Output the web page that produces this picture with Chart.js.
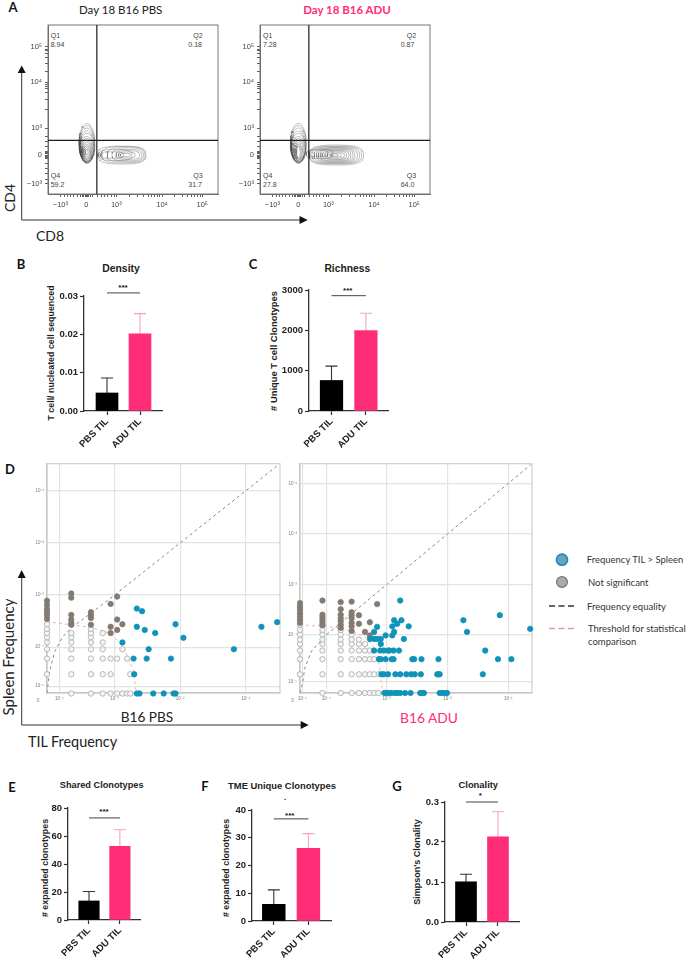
<!DOCTYPE html>
<html>
<head>
<meta charset="utf-8">
<title>TIL clonotype figure</title>
<script src="https://cdn.jsdelivr.net/npm/chart.js@4"></script>
<style>
  html, body { margin: 0; background: #fff; }
  #page { position: relative; width: 689px; height: 960px; overflow: hidden; }
  #page canvas { position: absolute; }
  #page svg { position: absolute; left: 0; top: 0; }
  .t { position: absolute; white-space: nowrap; line-height: 1; }
</style>
</head>
<body>
<div id="page">
  <svg width="689" height="960">
    <g stroke="#333" stroke-width="1" fill="none">
      <path d="M21.7 72V220H300"/>
      <path d="M21.7 577V725H301"/>
    </g>
    <g fill="#111">
      <path d="M21.7 65.5L17.7 73H25.7Z"/>
      <path d="M307.7 220L299.5 216V224Z"/>
      <path d="M21.7 570L17.7 578H25.7Z"/>
      <path d="M308.7 725L300.7 721V729Z"/>
    </g>
    <circle cx="562" cy="559.7" r="5.6" fill="#6aa6b0" stroke="#1b86c8" stroke-width="1.6"/>
    <circle cx="562" cy="582" r="5.4" fill="#b1a9a6" stroke="#777" stroke-width="1.3"/>
    <path d="M549 606H575" stroke="#333" stroke-width="1.3" stroke-dasharray="6 3.5"/>
    <path d="M549 628.5H575" stroke="#d9a0a5" stroke-width="1.3" stroke-dasharray="6 3.5"/>
  </svg>
</div>
<script>
// ---- bar panels
const categories = ['PBS TIL', 'ADU TIL'];

const densityMean = [0.0047, 0.0201];
const densityUpper = [0.0086, 0.0254];
const densityTicks = ['0.00', '0.01', '0.02', '0.03'];
const densitySig = 0.0308;

const richnessMean = [757, 1993];
const richnessUpper = [1113, 2423];
const richnessTicks = ['0', '1000', '2000', '3000'];
const richnessSig = 2859;

const sharedMean = [13.6, 52.6];
const sharedUpper = [20.4, 64.5];
const sharedTicks = ['0', '20', '40', '60', '80'];
const sharedSig = 72.9;

const uniqueMean = [6.0, 26.2];
const uniqueUpper = [11.2, 31.5];
const uniqueTicks = ['0', '10', '20', '30', '40'];
const uniqueSig = 36.8;

const clonalityMean = [0.1005, 0.2127];
const clonalityUpper = [0.1195, 0.2755];
const clonalityTicks = ['0.0', '0.1', '0.2', '0.3'];
const clonalitySig = 0.3;

// ---- flow plots, values are in display units of the biexponential axes
const flowXTicks = [-0.84, 0, 0.97, 2.45, 3.75];
const flowXLabels = ['−10³', '0', '10³', '10⁴', '10⁵'];
const flowXMinor = [-0.7, -0.6, -0.5, -0.4, -0.3, -0.2, -0.12, -0.08, -0.04, 0.04, 0.08, 0.12, 0.2, 0.35, 0.5, 0.6, 0.7, 0.8, 0.9,
  1.4, 1.65, 1.85, 2, 2.1, 2.2, 2.3, 2.38, 2.85, 3.1, 3.28, 3.4, 3.5, 3.6, 3.68];
const flowYTicks = [-1.07, 0, 1, 2.7, 4];
const flowYLabels = ['−10³', '0', '10³', '10⁴', '10⁵'];
const flowYMinor = [-0.9, -0.7, -0.5, -0.3, -0.12, -0.08, -0.04, 0.04, 0.08, 0.12, 0.3, 0.5, 0.7, 1.7, 2.05, 2.3, 2.45, 2.55, 2.62,
  3.1, 3.4, 3.6, 3.75, 3.85, 3.92];
const gateX = 0.34;
const gateY = 0.54;

// contours: centre x, centre y, half width, half height
const pbsQ4Contours = [[0.02, 0.43, 0.26, 0.74], [0.02, 0.40, 0.25, 0.69], [0.02, 0.36, 0.24, 0.64], [0.02, 0.31, 0.23, 0.58],
  [0.02, 0.27, 0.23, 0.53], [0.01, 0.22, 0.22, 0.47], [0.01, 0.19, 0.20, 0.42], [0.01, 0.16, 0.18, 0.37], [0.01, 0.14, 0.16, 0.32],
  [0.01, 0.12, 0.14, 0.27], [0.01, 0.11, 0.12, 0.22], [0.01, 0.11, 0.09, 0.16], [0.01, 0.11, 0.05, 0.10]];
const pbsQ3Contours = [[1.15, 0, 0.78, 0.33], [1.20, 0.01, 0.70, 0.30], [1.26, 0.01, 0.59, 0.26], [1.31, 0, 0.48, 0.21],
  [1.34, 0, 0.38, 0.16], [1.31, 0, 0.27, 0.11], [1.26, 0, 0.16, 0.06], [0.94, 0, 0.54, 0.20], [0.83, 0, 0.38, 0.12]];
const aduQ4Contours = [[0, 0.43, 0.26, 0.74], [0, 0.40, 0.25, 0.69], [0, 0.36, 0.24, 0.64], [0, 0.31, 0.23, 0.58],
  [0, 0.27, 0.23, 0.53], [0, 0.22, 0.21, 0.47], [0, 0.19, 0.18, 0.42], [0, 0.16, 0.15, 0.37], [0, 0.14, 0.12, 0.32],
  [0, 0.12, 0.09, 0.27], [0, 0.11, 0.06, 0.22]];
const aduQ3Contours = [[1.23, 0, 0.88, 0.37], [1.21, 0, 0.84, 0.33], [1.21, 0, 0.77, 0.31], [1.21, 0, 0.70, 0.28],
  [1.21, 0, 0.62, 0.26], [1.21, 0, 0.56, 0.23], [1.21, 0, 0.49, 0.21], [1.21, 0, 0.43, 0.17], [1.21, 0, 0.35, 0.15],
  [1.21, 0, 0.28, 0.11], [1.21, 0, 0.19, 0.07], [1.18, 0, 0.11, 0.04], [0.69, 0.04, 0.43, 0.17], [0.64, 0.06, 0.32, 0.12]];

// ---- clonotype scatter, values are log10 frequency on the drawn axes
const pbsXTicks = [-3.84, -3, -2, -1];
const pbsXLabels = ['10⁻⁴', '10⁻³', '10⁻²', '10⁻¹'];
const pbsYTicks = [-4.75, -4, -3, -2, -1];
const pbsYLabels = ['10⁻⁵', '10⁻⁴', '10⁻³', '10⁻²', '10⁻¹'];
const aduXTicks = [-4.39, -4, -3, -2, -1];
const aduXLabels = ['10⁻⁵', '10⁻⁴', '10⁻³', '10⁻²', '10⁻¹'];
const aduYTicks = [-4.92, -4, -3, -2, -1];
const aduYLabels = ['10⁻⁵', '10⁻⁴', '10⁻³', '10⁻²', '10⁻¹'];

const pbsEqualityX = [-4.03, -3.99, -3.91, -3.79, -3.66, -3.36, -3, -2, -1, -0.49];
const pbsEqualityY = [-4.88, -4.46, -4.08, -3.80, -3.63, -3.35, -3, -2, -1, -0.49];
const pbsThresholdX = [-4.03, -3.66, -3.36, -3.07, -2.89, -2.79, -2.71, -2.67];
const pbsThresholdY = [-3.51, -3.57, -3.62, -3.73, -3.95, -4.20, -4.46, -4.88];

const aduEqualityX = [-4.43, -4.39, -4.35, -4.24, -4, -3, -2, -1, -0.63];
const aduEqualityY = [-5.15, -4.97, -4.65, -4.32, -4, -3, -2, -1, -0.63];
const aduThresholdX = [-4.43, -4.06, -3.76, -3.36, -3.17, -3.12, -3.08, -3.08];
const aduThresholdY = [-3.80, -3.83, -3.86, -4.03, -4.32, -4.65, -5.04, -5.15];

// spleen level, then the TIL values seen at that level
const pbsWhiteLevels = [-4.89, -4.52, -4.22, -4.04, -3.91, -3.81, -3.73, -3.65, -3.56];
const pbsWhiteX = [
  [-3.66, -3.36, -3.18, -3.06, -2.96, -2.88, -2.81, -2.76],
  [-4.03, -3.66, -3.36, -3.18, -3.06, -2.76],
  [-4.03, -3.66, -3.36, -3.18, -3.06, -2.96, -2.81],
  [-4.03, -3.66, -3.36, -3.18, -2.88],
  [-4.03, -3.66, -3.36, -3.18],
  [-4.03, -3.66, -3.36],
  [-4.03, -3.66, -3.36, -3.18],
  [-4.03, -3.36],
  [-4.03]
];
const pbsGrayX = [-4.03, -4.03, -4.03, -4.03, -4.03, -4.03, -3.66, -3.66, -3.66, -3.66, -3.66, -3.66,
  -3.36, -3.36, -3.36, -3.36, -3.06, -3.06, -3.06, -2.96, -2.96, -2.96, -2.88];
const pbsGrayY = [-3.11, -3.19, -3.27, -3.33, -3.39, -3.46, -2.97, -3.05, -3.38, -3.47, -3.54, -3.57,
  -3.33, -3.39, -3.44, -3.57, -3.17, -3.61, -3.73, -3.03, -3.47, -3.67, -3.56];
const pbsBlueX = [-2.66, -2.58, -2.66, -2.54, -2.38, -2.07, -1.95, -2.88, -2.48, -1.18, -2.71, -2.51, -2.14, -2.70, -0.76, -0.52,
  -2.66, -2.62, -2.41, -2.25, -2.10, -2.07];
const pbsBlueY = [-3.26, -3.31, -3.61, -3.67, -3.73, -3.56, -3.82, -3.91, -4.04, -4.04, -4.22, -4.22, -4.22, -4.52, -3.61, -3.52,
  -4.89, -4.89, -4.89, -4.89, -4.89, -4.89];

const aduWhiteLevels = [-5.15, -4.78, -4.48, -4.31, -4.18, -4.09, -3.99, -3.90, -3.80];
const aduWhiteX = [
  [-4.06, -3.76, -3.58, -3.46, -3.36, -3.28, -3.21, -3.14],
  [-4.43, -4.06, -3.76, -3.58, -3.46, -3.36, -3.28, -3.21, -3.13],
  [-4.43, -4.06, -3.76, -3.58, -3.46, -3.36, -3.28, -3.21],
  [-4.43, -4.06, -3.76, -3.58, -3.46, -3.36, -3.28],
  [-4.43, -4.06, -3.76, -3.58, -3.46, -3.36],
  [-4.43, -4.06, -3.76, -3.58, -3.46],
  [-4.43, -4.06, -3.76, -3.58],
  [-4.43, -4.06, -3.76],
  [-4.43, -4.06]
];
const aduGrayX = [-4.43, -4.43, -4.43, -4.43, -4.43, -4.43, -4.43, -4.06, -4.06, -4.06, -4.06, -4.06, -4.06,
  -3.76, -3.76, -3.76, -3.76, -3.76, -3.76, -3.76, -3.58, -3.58, -3.58, -3.58, -3.58, -3.58, -3.58,
  -3.46, -3.46, -3.36, -3.28, -3.28, -3.16];
const aduGrayY = [-3.37, -3.44, -3.50, -3.57, -3.63, -3.70, -3.76, -3.32, -3.60, -3.65, -3.71, -3.76, -3.81,
  -3.35, -3.49, -3.60, -3.67, -3.73, -3.80, -3.86, -3.34, -3.55, -3.61, -3.67, -3.76, -3.83, -3.92,
  -3.61, -3.78, -3.94, -3.75, -4.01, -3.39];
const aduBlueLevels = [-3.32, -3.61, -3.71, -3.78, -3.83, -3.84, -3.88, -3.94, -4.01, -4.08, -4.18, -4.31, -4.48, -4.78, -5.15];
const aduBlueX = [
  [-2.78],
  [-1.14],
  [-2.88, -2.76, -1.74],
  [-2.83],
  [-2.91, -2.64],
  [-3.16],
  [-0.64],
  [-3.21, -2.88, -1.68],
  [-2.91, -3.02],
  [-2.72, -3.28, -3.21, -3.16, -3.10],
  [-3.10],
  [-3.21, -3.11, -3.05, -2.98, -2.96, -2.89, -2.80, -1.38],
  [-3.13, -3.10, -3.02, -2.92, -2.89, -2.58, -2.55, -2.43, -2.15, -1.17, -0.95],
  [-3.09, -3.05, -2.98, -2.86, -2.78, -2.68, -2.60, -2.54, -2.44, -2.17, -2.15, -2.13, -1.42],
  [-3.04, -3.01, -2.97, -2.93, -2.87, -2.83, -2.78, -2.70, -2.61, -2.45, -2.42, -2.39, -2.13, -2.09, -2.05, -2.01]
];

// ---- text on the page
const arial = '"Liberation Sans", Arial, sans-serif';
const lato = 'Lato, "Open Sans", sans-serif';
const pink = '#ff2d78';
const pageTexts = [
  // panel letters
  { s: 'A', x: 13, y: 7, f: `bold 13px ${lato}` }, { s: 'B', x: 21, y: 264, f: `bold 13px ${lato}` },
  { s: 'C', x: 253, y: 264, f: `bold 13px ${lato}` }, { s: 'D', x: 10, y: 469, f: `bold 13px ${lato}` },
  { s: 'E', x: 12, y: 787, f: `bold 13px ${lato}` }, { s: 'F', x: 205, y: 786, f: `bold 13px ${lato}` },
  { s: 'G', x: 397, y: 786, f: `bold 13px ${lato}` },
  // panel A
  { s: 'Day 18 B16 PBS', x: 120.7, y: 8.5, f: `11.5px ${lato}`, c: '#222' },
  { s: 'Day 18 B16 ADU', x: 347, y: 9, f: `bold 11.5px ${lato}`, c: pink },
  { s: 'CD4', x: 8.5, y: 198, f: `14px ${lato}`, r: -90, c: '#222' },
  { s: 'CD8', x: 50, y: 235, f: `14px ${lato}`, c: '#222' },
  { s: 'Q1', x: 50.7, y: 35, f: `7px ${arial}`, a: 'l', c: '#444' }, { s: '8.94', x: 50.7, y: 44, f: `7px ${arial}`, a: 'l', c: '#444' },
  { s: 'Q2', x: 193.3, y: 35, f: `7px ${arial}`, a: 'l', c: '#444' }, { s: '0.18', x: 188.3, y: 44, f: `7px ${arial}`, a: 'l', c: '#444' },
  { s: 'Q4', x: 50.7, y: 175, f: `7px ${arial}`, a: 'l', c: '#444' }, { s: '59.2', x: 50.7, y: 184, f: `7px ${arial}`, a: 'l', c: '#444' },
  { s: 'Q3', x: 193.3, y: 175, f: `7px ${arial}`, a: 'l', c: '#444' }, { s: '31.7', x: 188.3, y: 184, f: `7px ${arial}`, a: 'l', c: '#444' },
  { s: 'Q1', x: 263, y: 35, f: `7px ${arial}`, a: 'l', c: '#444' }, { s: '7.28', x: 263, y: 44, f: `7px ${arial}`, a: 'l', c: '#444' },
  { s: 'Q2', x: 406.7, y: 35, f: `7px ${arial}`, a: 'l', c: '#444' }, { s: '0.87', x: 400.7, y: 44, f: `7px ${arial}`, a: 'l', c: '#444' },
  { s: 'Q4', x: 263, y: 175, f: `7px ${arial}`, a: 'l', c: '#444' }, { s: '27.8', x: 263, y: 184, f: `7px ${arial}`, a: 'l', c: '#444' },
  { s: 'Q3', x: 406.7, y: 175, f: `7px ${arial}`, a: 'l', c: '#444' }, { s: '64.0', x: 400.7, y: 184, f: `7px ${arial}`, a: 'l', c: '#444' },
  // bar panel titles and axis names
  { s: 'Density', x: 121, y: 268, f: `bold 10.4px ${arial}`, c: '#222' },
  { s: 'T cell/ nucleated cell sequenced', x: 50.7, y: 353, f: `bold 8.9px ${arial}`, r: -90, c: '#222' },
  { s: '***', x: 123, y: 286.5, f: `bold 8px ${arial}` },
  { s: 'Richness', x: 347.3, y: 268, f: `bold 10.3px ${arial}`, c: '#222' },
  { s: '# Unique T cell Clonotypes', x: 273, y: 351, f: `bold 9.4px ${arial}`, r: -90, c: '#222' },
  { s: '***', x: 347.7, y: 290, f: `bold 8px ${arial}` },
  { s: 'Shared Clonotypes', x: 101.7, y: 784.7, f: `bold 9.2px ${arial}`, c: '#222' },
  { s: '# expanded clonotypes', x: 45.3, y: 868, f: `bold 8.9px ${arial}`, r: -90, c: '#222' },
  { s: '***', x: 104, y: 810.5, f: `bold 8px ${arial}` },
  { s: 'TME Unique Clonotypes', x: 282, y: 784.7, f: `bold 9.4px ${arial}`, c: '#222' },
  { s: '.', x: 285, y: 797, f: `bold 8px ${arial}` },
  { s: '# expanded clonotypes', x: 226, y: 868, f: `bold 8.9px ${arial}`, r: -90, c: '#222' },
  { s: '***', x: 289.7, y: 814.5, f: `bold 8px ${arial}` },
  { s: 'Clonality', x: 478.3, y: 784, f: `bold 9.4px ${arial}`, c: '#222' },
  { s: '*', x: 480.3, y: 795, f: `bold 8px ${arial}` },
  { s: "Simpson's Clonality", x: 417.3, y: 862, f: `bold 9px ${arial}`, r: -90, c: '#222' },
  // panel D
  { s: 'Spleen Frequency', x: 8, y: 657, f: `15px ${lato}`, r: -90, c: '#222' },
  { s: 'TIL Frequency', x: 72.5, y: 740.7, f: `14.4px ${lato}`, c: '#222' },
  { s: 'B16 PBS', x: 147, y: 716.7, f: `13.6px ${lato}`, c: '#222' },
  { s: 'B16 ADU', x: 429, y: 716.7, f: `13.8px ${lato}`, c: pink },
  { s: '0', x: 38, y: 700, f: `4.5px ${arial}`, c: '#777' },
  { s: '0', x: 292.5, y: 700, f: `4.5px ${arial}`, c: '#777' },
  // legend
  { s: 'Frequency TIL > Spleen', x: 586.7, y: 559, f: `9.5px ${lato}`, a: 'l', c: '#333' },
  { s: 'Not significant', x: 588, y: 582, f: `9.5px ${lato}`, a: 'l', c: '#333' },
  { s: 'Frequency equality', x: 587, y: 606, f: `9.5px ${lato}`, a: 'l', c: '#333' },
  { s: 'Threshold for statistical', x: 588, y: 628, f: `9.5px ${lato}`, a: 'l', c: '#333' },
  { s: 'comparison', x: 588, y: 641, f: `9.5px ${lato}`, a: 'l', c: '#333' }
];

const page = document.getElementById('page');

pageTexts.forEach(item => {
  const el = document.createElement('div');
  el.className = 't';
  el.textContent = item.s;
  el.style.font = item.f;
  el.style.color = item.c || '#111';
  el.style.left = item.x + 'px';
  el.style.top = item.y + 'px';
  const shiftX = item.a === 'l' ? '0' : '-50%';
  el.style.transform = `translate(${shiftX}, -50%)` + (item.r ? ` rotate(${item.r}deg)` : '');
  page.appendChild(el);
});

// Make a canvas so that the plot area lands on the given rectangle
function addCanvas(rect, pad) {
  const canvas = document.createElement('canvas');
  canvas.width = rect.right - rect.left + pad.left + pad.right;
  canvas.height = rect.bottom - rect.top + pad.top + pad.bottom;
  canvas.style.width = canvas.width + 'px';
  canvas.style.height = canvas.height + 'px';
  canvas.style.left = (rect.left - pad.left) + 'px';
  canvas.style.top = (rect.top - pad.top) + 'px';
  page.appendChild(canvas);
  return canvas;
}

function baseOptions(pad) {
  return {
    responsive: false,
    animation: false,
    events: [],
    devicePixelRatio: 1,
    layout: { autoPadding: false, padding: { top: pad.top, right: pad.right, left: 0, bottom: 0 } },
    plugins: { legend: { display: false }, tooltip: { enabled: false } }
  };
}

// Frame around the plot area, under the marks
const framePlugin = {
  id: 'frame',
  beforeDatasetsDraw(chart, args, opts) {
    const a = chart.chartArea;
    chart.ctx.save();
    chart.ctx.strokeStyle = opts.color;
    chart.ctx.lineWidth = opts.width;
    chart.ctx.strokeRect(a.left, a.top, a.right - a.left, a.bottom - a.top);
    chart.ctx.restore();
  }
};

// Error bars, Chart.js has none of its own
const errorPlugin = {
  id: 'upperError',
  beforeDatasetsDraw(chart, args, opts) {
    const ctx = chart.ctx;
    const meta = chart.getDatasetMeta(0);
    const y = chart.scales.y;
    meta.data.forEach((bar, i) => {
      const top = y.getPixelForValue(opts.upper[i]);
      ctx.save();
      ctx.strokeStyle = opts.colors[i];
      ctx.lineWidth = 1.1;
      ctx.beginPath();
      ctx.moveTo(bar.x, y.getPixelForValue(opts.mean[i]));
      ctx.lineTo(bar.x, top);
      ctx.moveTo(bar.x - opts.cap, top);
      ctx.lineTo(bar.x + opts.cap, top);
      ctx.stroke();
      ctx.restore();
    });
  }
};

function barPanel(p) {
  const pad = { left: 40, right: 8, top: 16, bottom: 42 };
  const unit = p.center1 - p.center0;
  const options = baseOptions(pad);
  options.plugins.upperError = { mean: p.mean, upper: p.upper, colors: ['#333', '#f5a3c0'], cap: 6 };
  const axisStyle = {
    border: { color: '#333', width: 1.3 },
    grid: { drawOnChartArea: false, drawTicks: true, tickLength: 4, tickColor: '#333', tickWidth: 1.2 }
  };
  options.scales = {
    x: {
      type: 'linear',
      offset: false,
      min: -(p.center0 - p.left) / unit,
      max: 1 + (p.right - p.center1) / unit,
      ...axisStyle,
      grid: { ...axisStyle.grid, offset: false },
      afterBuildTicks: s => { s.ticks = categories.map((c, i) => ({ value: i })); },
      afterFit: s => { s.height = pad.bottom; },
      ticks: {
        autoSkip: false,
        minRotation: 45,
        maxRotation: 45,
        padding: 1,
        color: '#222',
        font: { family: arial, weight: 'bold', size: 9.5 },
        callback: v => categories[v]
      }
    },
    y: {
      min: Number(p.ticks[0]),
      max: Number(p.ticks[p.ticks.length - 1]),
      ...axisStyle,
      afterBuildTicks: s => { s.ticks = p.ticks.map(t => ({ value: Number(t) })); },
      afterFit: s => { s.width = pad.left; },
      ticks: {
        autoSkip: false,
        padding: 2,
        color: '#222',
        font: { family: arial, weight: 'bold', size: 9.5 },
        callback: v => p.ticks[p.ticks.findIndex(t => Number(t) === v)]
      }
    }
  };
  new Chart(addCanvas(p, pad), {
    type: 'bar',
    plugins: [errorPlugin],
    data: {
      datasets: [
        {
          data: p.mean.map((v, i) => ({ x: i, y: v })),
          backgroundColor: ['#000', pink],
          barThickness: p.barWidth
        },
        {
          type: 'line',
          data: [{ x: 0, y: p.sig }, { x: 1, y: p.sig }],
          borderColor: '#444',
          borderWidth: 1,
          pointRadius: 0,
          clip: false
        }
      ]
    },
    options: options
  });
}

barPanel({ left: 84, right: 162, top: 295.7, bottom: 411.3, center0: 107, center1: 140, barWidth: 22,
  mean: densityMean, upper: densityUpper, ticks: densityTicks, sig: densitySig });
barPanel({ left: 309.3, right: 389, top: 290, bottom: 411.3, center0: 332, center1: 366.7, barWidth: 22.6,
  mean: richnessMean, upper: richnessUpper, ticks: richnessTicks, sig: richnessSig });
barPanel({ left: 68.3, right: 141, top: 808.3, bottom: 920.3, center0: 89.5, center1: 120.7, barWidth: 20.5,
  mean: sharedMean, upper: sharedUpper, ticks: sharedTicks, sig: sharedSig });
barPanel({ left: 252.3, right: 331.7, top: 810.3, bottom: 922, center0: 274.2, center1: 309, barWidth: 22.8,
  mean: uniqueMean, upper: uniqueUpper, ticks: uniqueTicks, sig: uniqueSig });
barPanel({ left: 445.3, right: 520, top: 802, bottom: 922.3, center0: 466.5, center1: 498.8, barWidth: 21,
  mean: clonalityMean, upper: clonalityUpper, ticks: clonalityTicks, sig: clonalitySig });

// Closed outline of one contour, power above 2 squares it off towards a stadium
function contourPoints(c, power) {
  const pts = [];
  for (let i = 0; i <= 48; i++) {
    const a = i / 48 * 2 * Math.PI;
    const ca = Math.cos(a), sa = Math.sin(a);
    pts.push({
      x: c[0] + c[2] * Math.sign(ca) * Math.pow(Math.abs(ca), 2 / power),
      y: c[1] + c[3] * Math.sign(sa) * Math.pow(Math.abs(sa), 2 / power)
    });
  }
  return pts;
}

function lineSet(points, color, width, dash) {
  return { data: points, showLine: true, borderColor: color, borderWidth: width, borderDash: dash || [], pointRadius: 0, tension: 0 };
}

function flowPanel(left, q4, q3) {
  const rect = { left: left, right: left + 170.5, top: 25, bottom: 194 };
  const pad = { left: 34, right: 8, top: 8, bottom: 24 };
  const xRange = [-1.24, 4.26], yRange = [-1.44, 4.81];
  const options = baseOptions(pad);
  options.plugins.frame = { color: '#777', width: 1 };
  const scale = (range, majors, labels, minors, fit) => ({
    min: range[0],
    max: range[1],
    border: { color: '#666', width: 1 },
    grid: { drawOnChartArea: false, tickLength: 3, tickColor: '#333', tickWidth: 0.8 },
    afterBuildTicks: s => { s.ticks = majors.concat(minors).sort((a, b) => a - b).map(v => ({ value: v })); },
    afterFit: fit,
    ticks: {
      autoSkip: false,
      minRotation: 0,
      maxRotation: 0,
      padding: 3,
      color: '#444',
      font: { family: arial, size: 7.5 },
      callback: v => { const i = majors.indexOf(v); return i < 0 ? '' : labels[i]; }
    }
  });
  options.scales = {
    x: scale(xRange, flowXTicks, flowXLabels, flowXMinor, s => { s.height = pad.bottom; }),
    y: scale(yRange, flowYTicks, flowYLabels, flowYMinor, s => { s.width = pad.left; })
  };
  const gateColor = '#1c1c1c';
  const contourColor = 'rgba(70,70,70,0.6)';
  const datasets = [
    lineSet([{ x: gateX, y: yRange[0] }, { x: gateX, y: yRange[1] }], gateColor, 1.2),
    lineSet([{ x: xRange[0], y: gateY }, { x: xRange[1], y: gateY }], gateColor, 1.2)
  ];
  q4.forEach(c => datasets.push(lineSet(contourPoints(c, 2), contourColor, 0.55)));
  q3.forEach(c => datasets.push(lineSet(contourPoints(c, 3), contourColor, 0.55)));
  new Chart(addCanvas(rect, pad), { type: 'scatter', plugins: [framePlugin], data: { datasets: datasets }, options: options });
}

flowPanel(47.5, pbsQ4Contours, pbsQ3Contours);
flowPanel(260, aduQ4Contours, aduQ3Contours);

function zipPoints(xs, ys) {
  return xs.map((x, i) => ({ x: x, y: ys[i] }));
}

function levelPoints(levels, xs) {
  const pts = [];
  levels.forEach((y, i) => xs[i].forEach(x => pts.push({ x: x, y: y })));
  return pts;
}

function pointSet(points, fill, stroke) {
  return { data: points, backgroundColor: fill, borderColor: stroke, borderWidth: 0.8, pointRadius: 2.7, clip: false };
}

function clonePanel(p) {
  const pad = { left: 14, right: 6, top: 4, bottom: 10 };
  const options = baseOptions(pad);
  options.plugins.frame = { color: '#cfcfcf', width: 1.2 };
  const scale = (range, majors, labels, fit) => ({
    min: range[0],
    max: range[1],
    border: { color: '#b5b5b5', width: 1.2 },
    grid: { color: '#e3e3e3', lineWidth: 1.2, drawTicks: false, tickLength: 0 },
    afterBuildTicks: s => { s.ticks = majors.map(v => ({ value: v })); },
    afterFit: fit,
    ticks: {
      autoSkip: false,
      minRotation: 0,
      maxRotation: 0,
      padding: 3,
      color: '#777',
      font: { family: arial, size: 4.5 },
      callback: v => labels[majors.indexOf(v)]
    }
  });
  options.scales = {
    x: scale(p.xRange, p.xTicks, p.xLabels, s => { s.height = pad.bottom; }),
    y: scale(p.yRange, p.yTicks, p.yLabels, s => { s.width = pad.left; })
  };
  const blue = '#0f93b8';
  const datasets = [
    pointSet(p.blue, blue, blue),
    pointSet(p.gray, '#837a72', '#837a72'),
    pointSet(p.white, '#f5f5f5', '#a8a8a8'),
    lineSet(p.equality, '#8a8a8a', 1, [3, 3]),
    lineSet(p.threshold, '#e8b4b8', 1, [3, 3])
  ];
  new Chart(addCanvas(p, pad), { type: 'scatter', plugins: [framePlugin], data: { datasets: datasets }, options: options });
}

clonePanel({
  left: 46.7, right: 280, top: 462.3, bottom: 694,
  xRange: [-4.03, -0.477], yRange: [-4.88, -0.48],
  xTicks: pbsXTicks, xLabels: pbsXLabels, yTicks: pbsYTicks, yLabels: pbsYLabels,
  blue: zipPoints(pbsBlueX, pbsBlueY),
  gray: zipPoints(pbsGrayX, pbsGrayY),
  white: levelPoints(pbsWhiteLevels, pbsWhiteX),
  equality: zipPoints(pbsEqualityX, pbsEqualityY),
  threshold: zipPoints(pbsThresholdX, pbsThresholdY)
});
clonePanel({
  left: 300.3, right: 533.3, top: 462.3, bottom: 694,
  xRange: [-4.43, -0.61], yRange: [-5.15, -0.61],
  xTicks: aduXTicks, xLabels: aduXLabels, yTicks: aduYTicks, yLabels: aduYLabels,
  blue: levelPoints(aduBlueLevels, aduBlueX),
  gray: zipPoints(aduGrayX, aduGrayY),
  white: levelPoints(aduWhiteLevels, aduWhiteX),
  equality: zipPoints(aduEqualityX, aduEqualityY),
  threshold: zipPoints(aduThresholdX, aduThresholdY)
});
</script>
</body>
</html>
